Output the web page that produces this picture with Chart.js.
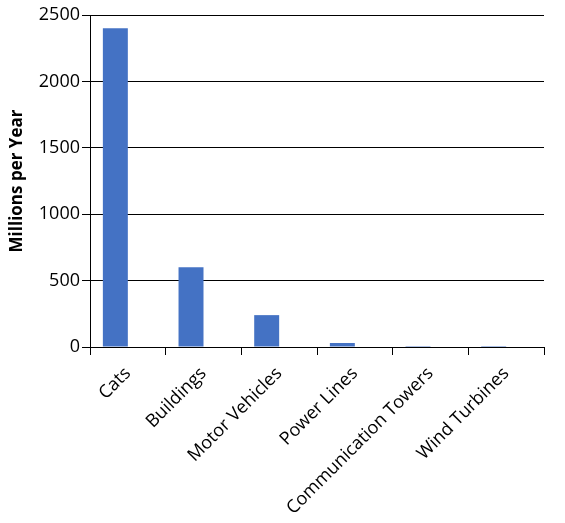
<!DOCTYPE html>
<html>
<head>
<meta charset="utf-8">
<script src="https://cdn.jsdelivr.net/npm/chart.js@4"></script>
<style>
    html, body { margin: 0; padding: 0; background: #fff; }
    #wrap { width: 565px; height: 523px; }
</style>
</head>
<body>
<div id="wrap"><canvas id="chartJS"></canvas></div>
<script>
const labels = [
    'Cats', 'Buildings', 'Motor Vehicles', 'Power Lines', 'Communication Towers', 'Wind Turbines'
];
const deaths = [2400, 600, 240, 30, 7, 0.3];
const yTicks = [0, 500, 1000, 1500, 2000, 2500];

const data = {
    labels: labels,
    datasets: [{
        label: 'Millions per Year',
        data: deaths,
        backgroundColor: '#4472C4',
        borderWidth: 0
    },
    {
        // empty second series, keeps the bars left of center like the original
        label: '',
        data: labels.map(() => null),
        backgroundColor: 'transparent'
    }]
};

const config = {
    type: 'bar',
    data: data,
    options: {
        responsive: false,
        animation: false,
        devicePixelRatio: 1,
        categoryPercentage: 0.66,
        barPercentage: 1,
        layout: { padding: { top: 15, right: 21, left: 0, bottom: 0 } },
        plugins: {
            legend: { display: false },
            tooltip: { enabled: false }
        },
        scales: {
            x: {
                offset: true,
                grid: {
                    offset: true,
                    drawOnChartArea: true,
                    color: (c) => c.index === labels.length ? '#e4e4e4' : 'transparent',
                    tickColor: (c) => c.index === labels.length ? '#9a9a9a' : '#000',
                    tickLength: 8,
                    lineWidth: 1
                },
                border: { display: true, color: '#000', width: 1 },
                ticks: {
                    maxRotation: 45,
                    minRotation: 45,
                    color: '#000',
                    padding: 8,
                    font: { family: 'Open Sans', size: 18 }
                },
                afterFit: (s) => { s.height = 176; }
            },
            y: {
                min: 0,
                max: 2500,
                afterBuildTicks: (s) => { s.ticks = yTicks.map(v => ({ value: v })); },
                grid: {
                    color: '#000',
                    tickColor: '#000',
                    tickLength: 8,
                    lineWidth: 1
                },
                border: { display: true, color: '#000', width: 1 },
                ticks: {
                    color: '#000',
                    padding: 2,
                    callback: (v) => String(v),
                    font: { family: 'Open Sans', size: 18 }
                },
                title: {
                    display: true,
                    text: 'Millions per Year',
                    color: '#000',
                    padding: { top: 7, bottom: 0 },
                    font: { family: 'Open Sans', size: 17, weight: 'bold' }
                },
                afterFit: (s) => { s.width = 90; }
            }
        }
    }
};

const canvas = document.getElementById('chartJS');
canvas.width = 565;
canvas.height = 523;
const myChart = new Chart(canvas, config);
</script>
</body>
</html>
